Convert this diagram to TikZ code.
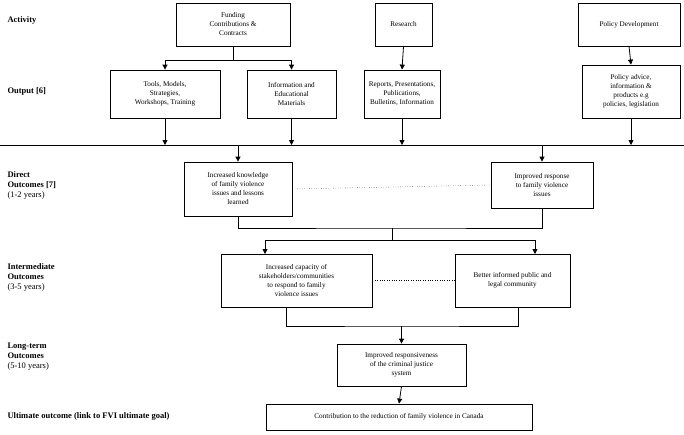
\documentclass[tikz,border=0pt]{standalone}
\usepackage{fontspec}
\setmainfont{Liberation Serif}
\usetikzlibrary{positioning, arrows.meta}

\tikzset{
  box/.style={draw, thick, align=center, inner sep=1pt, font=\fontsize{7.2}{9}\selectfont},
  stage/.style={anchor=west, align=left, font=\fontsize{8.5}{10}\selectfont},
  arr/.style={thick, -{Triangle[width=5pt,length=5pt]}},
  ln/.style={thick},
}

\begin{document}
\begin{tikzpicture}[x=1pt,y=-1pt]
  \useasboundingbox (0,0) rectangle (684,434);
  % stage labels
  \node[stage] (sa) at (4,20) {\textbf{Activity}};
  \node[stage] (so) at (4,91) {\textbf{Output [6]}};
  \node[stage] (sd) at (4,185) {\textbf{Direct}\\\textbf{Outcomes [7]}\\(1-2 years)};
  \node[stage] (si) at (4,277) {\textbf{Intermediate}\\\textbf{Outcomes}\\(3-5 years)};
  \node[stage] (sl) at (4,357) {\textbf{Long-term}\\\textbf{Outcomes}\\(5-10 years)};
  \node[stage] (su) at (4,416) {\textbf{Ultimate outcome (link to FVI ultimate goal)}};
  % activities
  \node[box, minimum width=114, minimum height=43] (fund) at (233,24.5) {Funding\\Contributions \&\\Contracts};
  \node[box, minimum width=57, minimum height=43] (res) at (403.5,24.5) {Research};
  \node[box, minimum width=102, minimum height=43] (pol) at (629,24.5) {Policy Development};
  % outputs
  \node[box, minimum width=110, minimum height=48] (tools) at (165,94) {Tools, Models,\\Strategies,\\Workshops, Training};
  \node[box, minimum width=89, minimum height=48] (info) at (291.5,94) {Information and\\Educational\\Materials};
  \node[box, minimum width=76, minimum height=48, inner sep=0pt] (rep) at (402,94) {Reports, Presentations,\\Publications,\\Bulletins, Information};
  \node[box, minimum width=98, minimum height=53] (adv) at (631,91.5) {Policy advice,\\information \&\\products e.g\\policies, legislation};
  % direct outcomes
  \node[box, minimum width=108, minimum height=54] (know) at (238,189) {Increased knowledge\\of family violence\\issues and lessons\\learned};
  \node[box, minimum width=102, minimum height=46] (resp) at (542,185) {Improved response\\to family violence\\issues};
  % intermediate outcomes
  \node[box, minimum width=151, minimum height=53] (cap) at (296.5,280.5) {Increased capacity of\\stakeholders/communities\\to respond to family\\violence issues};
  \node[box, minimum width=115, minimum height=53] (pub) at (512.5,280.5) {Better informed public and\\legal community};
  % long-term and ultimate
  \node[box, minimum width=129, minimum height=42] (just) at (401.5,365) {Improved responsiveness\\of the criminal justice\\system};
  \node[box, minimum width=266, minimum height=26] (red) at (399,417) {Contribution to the reduction of family violence in Canada};
  % activity to output
  \coordinate (fj) at (fund.south |- 0,60);
  \draw[ln] (fund.south) -- (fj);
  \draw[arr] (fj) -| (tools.north);
  \draw[arr] (fj) -| (info.north);
  \draw[arr] (res.south) -- (rep.north);
  \draw[arr] (pol.south) -- (adv.north);
  % output bus
  \coordinate (bl) at (0,145);
  \coordinate (br) at (684,145);
  \draw[ln] (bl) -- (br);
  \draw[arr] (tools.south) -- (tools.south |- bl);
  \draw[arr] (info.south) -- (info.south |- bl);
  \draw[arr] (rep.south) -- (rep.south |- bl);
  \draw[arr] (adv.south) -- (adv.south |- bl);
  \draw[arr] (know.north |- bl) -- (know.north);
  \draw[arr] (resp.north |- bl) -- (resp.north);
  \draw[thin, dotted] (know.east) -- (resp.west);
  % direct to intermediate
  \coordinate (dj) at (392,228);
  \coordinate (dk) at (392,240);
  \draw[ln] (know.south) |- (dj) -| (resp.south);
  \draw[ln] (dj) -- (dk);
  \draw[arr] (dk) -| (265,254);
  \draw[arr] (dk) -| (535,254);
  \draw[thin, dotted] (cap.east) -- (pub.west);
  % intermediate to long-term
  \coordinate (ij) at (just.north |- 0,326);
  \draw[ln] (286,307) |- (ij) -| (518,307);
  \draw[arr] (ij) -- (just.north);
  \draw[arr] (just.south) -- (red.north);
\end{tikzpicture}
\end{document}
